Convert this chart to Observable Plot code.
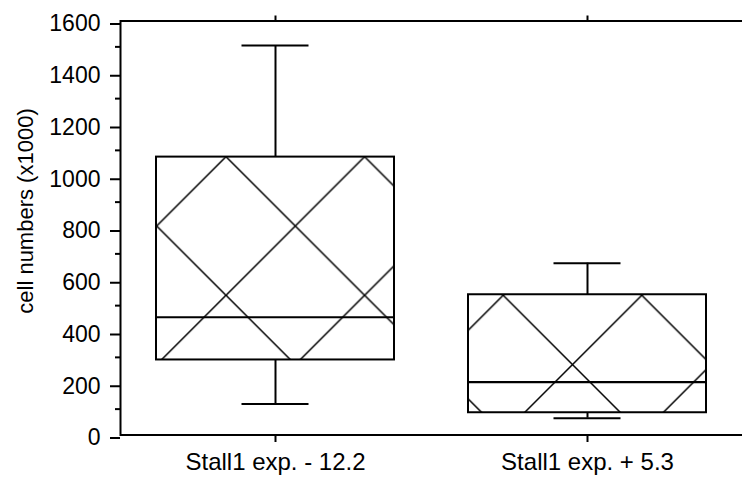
<!DOCTYPE html>
<html>
<head>
<meta charset="utf-8">
<script src="https://cdn.jsdelivr.net/npm/d3@7"></script>
<script src="https://cdn.jsdelivr.net/npm/@observablehq/plot@0.6"></script>
<style>
  html, body { margin: 0; padding: 0; background: #fff; overflow: hidden; }
  #chart svg { display: block; }
</style>
</head>
<body>
<div id="chart"></div>
<script>
// ---- data ----
const categories = ["Stall1 exp. - 12.2", "Stall1 exp. + 5.3"];
const whiskerLow = [120, 65];
const q1 = [290, 86];
const median = [455, 204];
const q3 = [1074, 542];
const whiskerHigh = [1505, 664];
const yTicks = [0, 200, 400, 600, 800, 1000, 1200, 1400, 1600];
const yMinorTicks = [100, 300, 500, 700, 900, 1100, 1300, 1500];
const yLabel = "cell numbers (x1000)";

const boxes = categories.map((c, i) => ({
  cat: c, lo: whiskerLow[i], q1: q1[i], med: median[i], q3: q3[i], hi: whiskerHigh[i]
}));

const font = "'Liberation Sans', Arial, Helvetica, sans-serif";

const plot = Plot.plot({
  width: 742,
  height: 477,
  marginLeft: 120,
  marginRight: 0,
  marginTop: 20.5,
  marginBottom: 42.5,
  style: { fontFamily: font, background: "#fff", color: "#000", overflow: "visible" },
  x: { domain: categories, paddingInner: 0.237, paddingOuter: 0.115 },
  y: { domain: [0, 1600] },
  marks: [
    // boxes with cross-hatching
    Plot.barY(boxes, { x: "cat", y1: "q1", y2: "q3", fill: "url(#hatch)", stroke: "#000", strokeWidth: 2 }),
    // medians
    Plot.tickY(boxes, { x: "cat", y: "med", stroke: "#000", strokeWidth: 2.2 }),
    // whiskers
    Plot.ruleX(boxes, { x: "cat", y1: "q3", y2: "hi", stroke: "#000", strokeWidth: 2 }),
    Plot.ruleX(boxes, { x: "cat", y1: "lo", y2: "q1", stroke: "#000", strokeWidth: 2 }),
    // caps
    Plot.tickY(boxes, { x: "cat", y: "hi", stroke: "#000", strokeWidth: 2, insetLeft: 85.5, insetRight: 85.5 }),
    Plot.tickY(boxes, { x: "cat", y: "lo", stroke: "#000", strokeWidth: 2, insetLeft: 85.5, insetRight: 85.5 }),
    // frame lines: top, bottom, left
    Plot.ruleY([0, 1600], { stroke: "#000", strokeWidth: 2 }),
    Plot.frame({ anchor: "left", stroke: "#000", strokeWidth: 2 }),
    // y axis
    Plot.axisY({ ticks: yTicks, tickSize: 10, tickPadding: 10, fontSize: 23, strokeWidth: 2, label: null, dy: 3, tickFormat: d3.format("d") }),
    Plot.axisY({ ticks: yMinorTicks, tickSize: 5, tickFormat: () => "", strokeWidth: 2, label: null }),
    // x axes
    Plot.axisX({ anchor: "bottom", tickSize: 7.5, tickPadding: 10, fontSize: 24, strokeWidth: 2, label: null }),
    Plot.axisX({ anchor: "top", tickSize: 6, tickFormat: () => "", strokeWidth: 2, label: null }),
    // y axis title
    Plot.text([yLabel], { frameAnchor: "left", textAnchor: "middle", rotate: -90, dx: -95, dy: -17, fontSize: 22, text: d => d, fill: "#000" })
  ]
});

document.getElementById("chart").appendChild(plot);

// hatch pattern definition
const svg = d3.select(plot.tagName.toLowerCase() === "svg" ? plot : plot.querySelector("svg"));
const P = 138.6;
const defs = svg.insert("defs", ":first-child");
const pat = defs.append("pattern")
  .attr("id", "hatch")
  .attr("patternUnits", "userSpaceOnUse")
  .attr("x", 87.4).attr("y", 18.1)
  .attr("width", P).attr("height", P);
pat.append("rect").attr("width", P).attr("height", P).attr("fill", "#fff");
pat.append("path")
  .attr("d", `M0,0L${P},${P}M0,${P}L${P},0`)
  .attr("stroke", "#000").attr("stroke-width", 1.5).attr("fill", "none");
</script>
</body>
</html>
